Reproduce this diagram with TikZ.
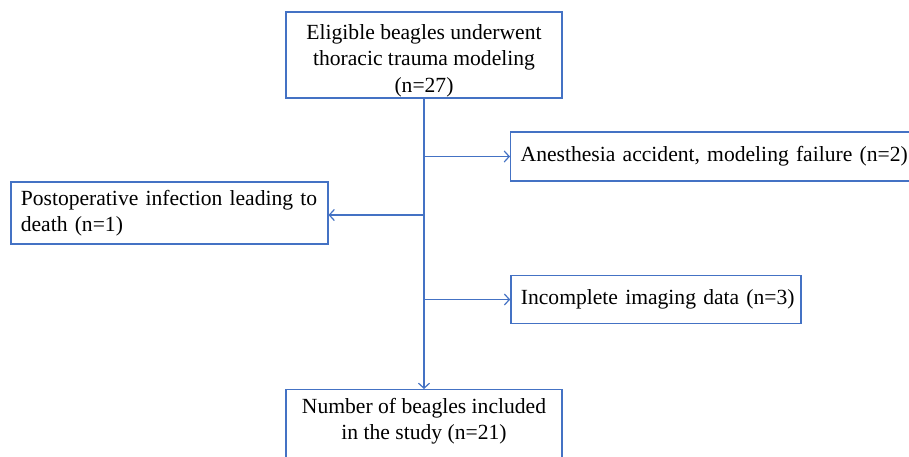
\documentclass[tikz,border=0pt]{standalone}
\usepackage{fontspec}
\setmainfont{Liberation Serif}
\usetikzlibrary{arrows.meta,positioning}
\definecolor{lineblue}{RGB}{68,114,196}
\tikzset{
  boxshape/.style={draw=lineblue, line width=1.4pt, rectangle, inner sep=0pt,
    font=\fontsize{21.6}{26.5}\selectfont, text=black},
  leftbox/.style={boxshape, align=left, inner xsep=10pt},
  txt/.style={inner sep=0pt, align=center, font=\fontsize{21.6}{26.5}\selectfont, text=black},
  conn/.style={draw=lineblue, line width=1.3pt, -{Straight Barb[length=5pt,width=11pt,line width=1.2pt]}}
}
\begin{document}
\begin{tikzpicture}[x=1pt,y=-1pt]
\useasboundingbox (0,0) rectangle (909,456);
\fill[white] (0,0) rectangle (909,456);

\node[boxshape, minimum width=276pt, minimum height=86pt] (top) at (424,55) {};
\node[txt] (toptxt) at (424,60.5)
  {Eligible beagles underwent\\thoracic trauma modeling\\(n=27)};

\node[leftbox, minimum width=401pt, minimum height=49pt, text width=381pt] (anes) at (711.2,156.5)
  {\mbox{Anesthesia accident, modeling failure (n=2)}};

\node[leftbox, minimum width=317pt, minimum height=62pt, text width=297pt] (post) at (169.3,213)
  {\mbox{Postoperative infection leading to}\\\mbox{death (n=1)}};

\node[leftbox, minimum width=290pt, minimum height=48pt, text width=270pt] (img) at (655.9,299.5)
  {\mbox{Incomplete imaging data (n=3)}};

\node[boxshape, minimum width=276pt, minimum height=80pt, anchor=north] (bot) at (424,389) {};
\node[txt, anchor=north] (bottxt) at ([yshift=-9pt]bot.north)
  {Number of beagles included\\in the study (n=21)};

\coordinate (j1) at (top.south |- anes.west);
\coordinate (j2) at (top.south |- 0,215);
\coordinate (j3) at (top.south |- img.west);

\draw[conn] (top.south) -- (bot.north);
\draw[conn] (j1) -- (anes.west);
\draw[conn] (j2) -- (post.east |- j2);
\draw[conn] (j3) -- (img.west);
\end{tikzpicture}
\end{document}
